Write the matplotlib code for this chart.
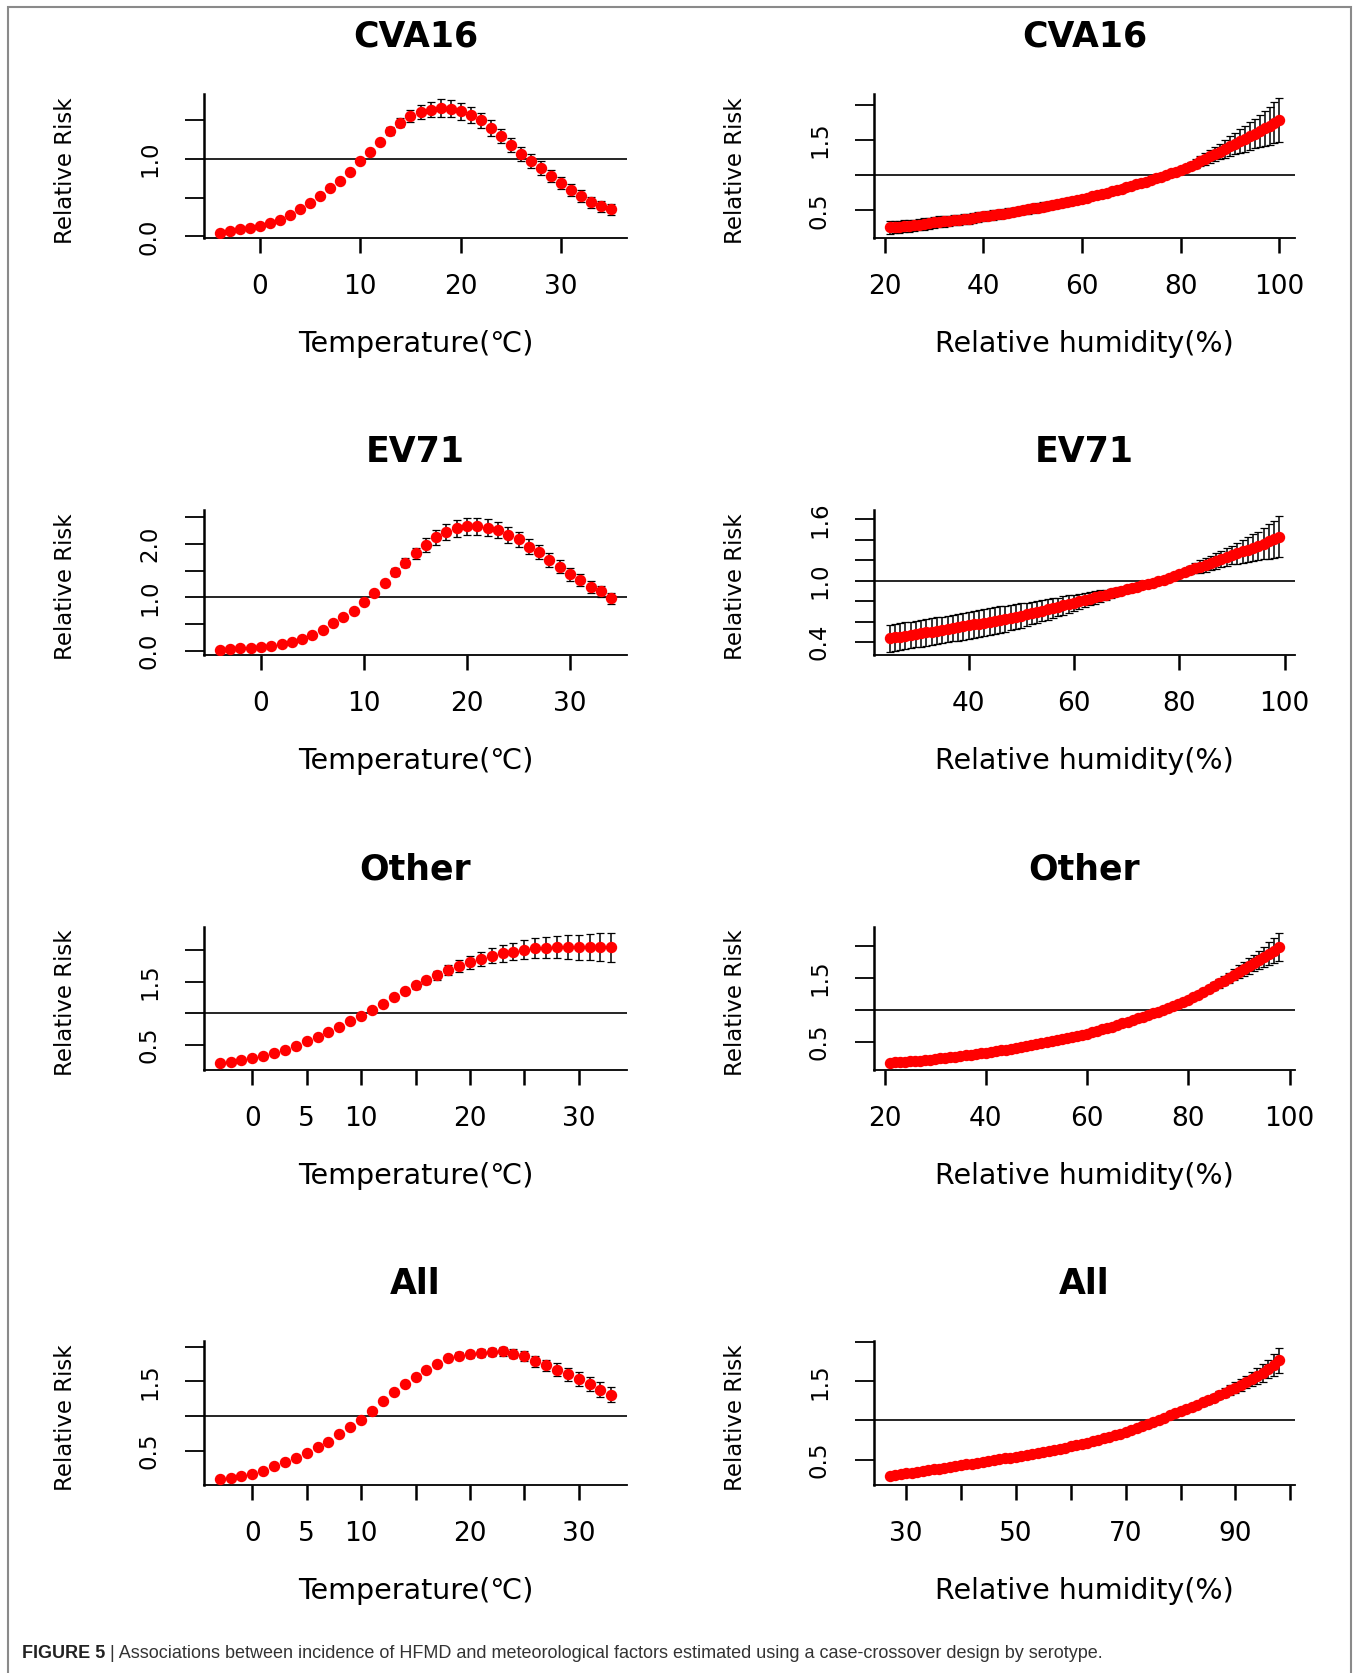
import numpy as np
import matplotlib.pyplot as plt
from matplotlib.patches import Rectangle
from matplotlib.text import Annotation

W, H = 1363, 1673

# exposure grids: one estimate per degree / per percent
temp_cva16 = np.arange(-4, 36)
temp_ev71 = np.arange(-4, 35)
temp_other = np.arange(-3, 34)
temp_all = np.arange(-3, 34)
hum_cva16 = np.arange(21, 101)
hum_ev71 = np.arange(25, 100)
hum_other = np.arange(21, 99)
hum_all = np.arange(27, 99)

# ── relative risk, temperature ───────────────────────────────
rr_temp_cva16 = [0.05, 0.07, 0.09, 0.11, 0.13, 0.17, 0.21, 0.27, 0.35, 0.43,
                 0.52, 0.62, 0.71, 0.83, 0.97, 1.09, 1.21, 1.35, 1.46, 1.55,
                 1.60, 1.63, 1.65, 1.64, 1.61, 1.56, 1.49, 1.39, 1.29, 1.18,
                 1.06, 0.97, 0.88, 0.78, 0.69, 0.60, 0.52, 0.44, 0.39, 0.35]
ci_temp_cva16 = [0.03, 0.03, 0.03, 0.03, 0.03, 0.03, 0.03, 0.03, 0.03, 0.03,
                 0.03, 0.02, 0.02, 0.01, 0.00, 0.02, 0.03, 0.05, 0.06, 0.08,
                 0.09, 0.10, 0.11, 0.11, 0.11, 0.10, 0.10, 0.10, 0.09, 0.09,
                 0.09, 0.09, 0.09, 0.08, 0.08, 0.08, 0.08, 0.07, 0.07, 0.07]

rr_temp_ev71 = [0.02, 0.03, 0.05, 0.06, 0.08, 0.10, 0.13, 0.17, 0.23, 0.30,
                0.40, 0.52, 0.63, 0.75, 0.91, 1.09, 1.26, 1.47, 1.65, 1.82,
                1.98, 2.12, 2.22, 2.29, 2.33, 2.33, 2.30, 2.25, 2.17, 2.08,
                1.94, 1.84, 1.70, 1.57, 1.43, 1.32, 1.20, 1.11, 0.98]
ci_temp_ev71 = [0.03, 0.03, 0.03, 0.03, 0.03, 0.03, 0.03, 0.03, 0.03, 0.03,
                0.03, 0.03, 0.02, 0.01, 0.00, 0.03, 0.05, 0.07, 0.09, 0.11,
                0.13, 0.14, 0.15, 0.16, 0.16, 0.16, 0.16, 0.15, 0.15, 0.14,
                0.14, 0.13, 0.13, 0.12, 0.12, 0.11, 0.11, 0.10, 0.10]

rr_temp_other = [0.20, 0.22, 0.25, 0.28, 0.32, 0.37, 0.42, 0.48, 0.55, 0.62,
                 0.70, 0.78, 0.87, 0.96, 1.05, 1.15, 1.25, 1.35, 1.44, 1.52,
                 1.60, 1.68, 1.75, 1.81, 1.86, 1.91, 1.95, 1.98, 2.01, 2.03,
                 2.04, 2.05, 2.05, 2.05, 2.05, 2.05, 2.05]
ci_temp_other = [0.02, 0.02, 0.02, 0.02, 0.02, 0.02, 0.02, 0.02, 0.02, 0.02,
                 0.02, 0.02, 0.01, 0.00, 0.01, 0.02, 0.03, 0.04, 0.05, 0.06,
                 0.07, 0.08, 0.09, 0.10, 0.11, 0.12, 0.13, 0.14, 0.15, 0.16,
                 0.17, 0.18, 0.19, 0.20, 0.21, 0.22, 0.23]

rr_temp_all = [0.10, 0.12, 0.15, 0.17, 0.22, 0.28, 0.34, 0.40, 0.47, 0.56,
               0.63, 0.74, 0.84, 0.95, 1.08, 1.22, 1.35, 1.46, 1.57, 1.66,
               1.75, 1.83, 1.87, 1.89, 1.91, 1.92, 1.93, 1.90, 1.86, 1.79,
               1.73, 1.67, 1.60, 1.53, 1.46, 1.38, 1.31]
ci_temp_all = [0.02, 0.02, 0.02, 0.02, 0.02, 0.02, 0.02, 0.02, 0.02, 0.02,
               0.02, 0.02, 0.01, 0.00, 0.01, 0.01, 0.02, 0.02, 0.03, 0.03,
               0.04, 0.04, 0.05, 0.05, 0.06, 0.06, 0.06, 0.07, 0.07, 0.08,
               0.08, 0.09, 0.09, 0.10, 0.10, 0.11, 0.11]

# ── relative risk, relative humidity ─────────────────────────
rr_hum_cva16 = [0.26, 0.265, 0.27, 0.28, 0.285, 0.29, 0.30, 0.31, 0.32, 0.33,
                0.34, 0.345, 0.35, 0.36, 0.37, 0.38, 0.385, 0.395, 0.405, 0.415,
                0.425, 0.435, 0.445, 0.455, 0.47, 0.48, 0.49, 0.505, 0.515, 0.53,
                0.54, 0.555, 0.565, 0.58, 0.59, 0.605, 0.62, 0.635, 0.65, 0.665,
                0.68, 0.70, 0.715, 0.73, 0.75, 0.77, 0.79, 0.81, 0.83, 0.85,
                0.87, 0.89, 0.91, 0.93, 0.955, 0.98, 1.00, 1.025, 1.05, 1.075,
                1.105, 1.135, 1.165, 1.195, 1.23, 1.265, 1.30, 1.335, 1.37, 1.41,
                1.445, 1.48, 1.515, 1.55, 1.59, 1.625, 1.665, 1.70, 1.74, 1.78]
ci_hum_cva16 = [0.09, 0.09, 0.085, 0.085, 0.085, 0.08, 0.08, 0.08, 0.08, 0.075,
                0.075, 0.075, 0.075, 0.07, 0.07, 0.07, 0.07, 0.07, 0.07, 0.065,
                0.065, 0.065, 0.065, 0.065, 0.065, 0.06, 0.06, 0.06, 0.06, 0.06,
                0.06, 0.06, 0.055, 0.055, 0.055, 0.05, 0.05, 0.05, 0.045, 0.045,
                0.045, 0.04, 0.04, 0.035, 0.035, 0.03, 0.03, 0.025, 0.025, 0.02,
                0.02, 0.015, 0.015, 0.01, 0.01, 0.005, 0.0, 0.01, 0.02, 0.03,
                0.04, 0.05, 0.06, 0.07, 0.08, 0.09, 0.10, 0.11, 0.13, 0.14,
                0.15, 0.17, 0.18, 0.20, 0.21, 0.23, 0.25, 0.27, 0.29, 0.31]

rr_hum_ev71 = [0.440, 0.448, 0.456, 0.464, 0.472, 0.480, 0.488, 0.496, 0.504, 0.512,
               0.520, 0.529, 0.538, 0.547, 0.556, 0.565, 0.574, 0.583, 0.592, 0.601,
               0.610, 0.620, 0.630, 0.640, 0.650, 0.660, 0.672, 0.684, 0.696, 0.708,
               0.720, 0.733, 0.746, 0.759, 0.772, 0.785, 0.798, 0.811, 0.824, 0.837,
               0.850, 0.863, 0.876, 0.889, 0.902, 0.915, 0.928, 0.941, 0.954, 0.967,
               0.980, 0.996, 1.012, 1.030, 1.050, 1.070, 1.087, 1.104, 1.121, 1.138,
               1.155, 1.174, 1.193, 1.212, 1.231, 1.250, 1.268, 1.286, 1.304, 1.322,
               1.340, 1.362, 1.384, 1.406, 1.430]
ci_hum_ev71 = [0.13, 0.13, 0.13, 0.13, 0.13, 0.13, 0.13, 0.13, 0.13, 0.13,
               0.13, 0.13, 0.13, 0.13, 0.13, 0.13, 0.13, 0.13, 0.13, 0.13,
               0.13, 0.13, 0.125, 0.125, 0.12, 0.12, 0.115, 0.11, 0.11, 0.105,
               0.10, 0.095, 0.09, 0.09, 0.085, 0.08, 0.075, 0.07, 0.065, 0.06,
               0.055, 0.05, 0.045, 0.04, 0.035, 0.03, 0.025, 0.02, 0.015, 0.01,
               0.005, 0.0, 0.0, 0.005, 0.01, 0.02, 0.03, 0.04, 0.05, 0.06,
               0.065, 0.07, 0.075, 0.08, 0.085, 0.09, 0.10, 0.11, 0.12, 0.13,
               0.14, 0.15, 0.17, 0.18, 0.20]

rr_hum_other = [0.170, 0.176, 0.182, 0.188, 0.194, 0.200, 0.206, 0.212, 0.220, 0.230,
                0.239, 0.248, 0.257, 0.266, 0.276, 0.286, 0.296, 0.307, 0.318, 0.330,
                0.342, 0.354, 0.366, 0.378, 0.391, 0.404, 0.418, 0.432, 0.446, 0.460,
                0.475, 0.491, 0.507, 0.524, 0.541, 0.558, 0.576, 0.594, 0.612, 0.630,
                0.651, 0.672, 0.694, 0.717, 0.740, 0.765, 0.790, 0.816, 0.843, 0.870,
                0.895, 0.920, 0.946, 0.973, 1.000, 1.030, 1.061, 1.093, 1.126, 1.160,
                1.200, 1.240, 1.282, 1.325, 1.370, 1.415, 1.460, 1.506, 1.553, 1.600,
                1.645, 1.690, 1.736, 1.783, 1.830, 1.880, 1.930, 1.980]
ci_hum_other = [0.035, 0.035, 0.035, 0.035, 0.035, 0.035, 0.035, 0.035, 0.035, 0.035,
                0.035, 0.035, 0.035, 0.035, 0.035, 0.035, 0.035, 0.035, 0.035, 0.035,
                0.035, 0.035, 0.035, 0.035, 0.03, 0.03, 0.03, 0.03, 0.03, 0.03,
                0.03, 0.03, 0.03, 0.025, 0.025, 0.025, 0.025, 0.02, 0.02, 0.02,
                0.02, 0.02, 0.015, 0.015, 0.015, 0.01, 0.01, 0.01, 0.008, 0.006,
                0.005, 0.004, 0.003, 0.002, 0.0, 0.005, 0.01, 0.015, 0.02, 0.03,
                0.035, 0.04, 0.045, 0.05, 0.06, 0.065, 0.07, 0.08, 0.09, 0.10,
                0.11, 0.12, 0.13, 0.14, 0.16, 0.18, 0.20, 0.22]

rr_hum_all = [0.295, 0.305, 0.315, 0.325,
              0.335, 0.345, 0.355, 0.365, 0.375, 0.386, 0.397, 0.408, 0.419, 0.430,
              0.440, 0.450, 0.461, 0.472, 0.483, 0.494, 0.505, 0.516, 0.526, 0.535,
              0.547, 0.559, 0.571, 0.584, 0.597, 0.610, 0.624, 0.638, 0.653, 0.670,
              0.686, 0.702, 0.718, 0.735, 0.752, 0.770, 0.789, 0.809, 0.829, 0.850,
              0.876, 0.902, 0.929, 0.956, 0.983, 1.010, 1.037, 1.064, 1.092, 1.120,
              1.147, 1.174, 1.201, 1.230, 1.260, 1.292, 1.324, 1.356, 1.388, 1.420,
              1.455, 1.490, 1.527, 1.566, 1.607, 1.657, 1.712, 1.770]
ci_hum_all = [0.03, 0.03, 0.03, 0.03,
              0.03, 0.03, 0.03, 0.03, 0.03, 0.03, 0.03, 0.03, 0.03, 0.03,
              0.025, 0.025, 0.025, 0.025, 0.025, 0.025, 0.025, 0.025, 0.025, 0.025,
              0.02, 0.02, 0.02, 0.02, 0.02, 0.02, 0.02, 0.02, 0.02, 0.02,
              0.02, 0.018, 0.016, 0.014, 0.012, 0.01, 0.008, 0.006, 0.005, 0.004,
              0.003, 0.002, 0.001, 0.0, 0.0, 0.0, 0.005, 0.01, 0.015, 0.02,
              0.025, 0.03, 0.035, 0.04, 0.045, 0.05, 0.055, 0.06, 0.065, 0.07,
              0.075, 0.08, 0.09, 0.10, 0.11, 0.12, 0.14, 0.16]

TEMP_LABEL = 'Temperature(℃)'
HUM_LABEL = 'Relative humidity(%)'
CAPTION_BOLD = 'FIGURE 5'
CAPTION_REST = (' | Associations between incidence of HFMD and meteorological factors '
                'estimated using a case-crossover design by serotype.')

# (row, col, title, x, rr, ci, xlabel, xticks, xticklabels, yticks, yticklabels, ylim)
panels = [
    (0, 0, 'CVA16', temp_cva16, rr_temp_cva16, ci_temp_cva16, TEMP_LABEL,
     [0, 10, 20, 30], ['0', '10', '20', '30'],
     [0, 0.5, 1.0, 1.5], ['0.0', '', '1.0', ''], (-0.02, 1.83)),
    (0, 1, 'CVA16', hum_cva16, rr_hum_cva16, ci_hum_cva16, HUM_LABEL,
     [20, 40, 60, 80, 100], ['20', '40', '60', '80', '100'],
     [0.5, 1.0, 1.5, 2.0], ['0.5', '', '1.5', ''], (0.11, 2.15)),
    (1, 0, 'EV71', temp_ev71, rr_temp_ev71, ci_temp_ev71, TEMP_LABEL,
     [0, 10, 20, 30], ['0', '10', '20', '30'],
     [0, 0.5, 1.0, 1.5, 2.0, 2.5], ['0.0', '', '1.0', '', '2.0', ''], (-0.075, 2.63)),
    (1, 1, 'EV71', hum_ev71, rr_hum_ev71, ci_hum_ev71, HUM_LABEL,
     [40, 60, 80, 100], ['40', '60', '80', '100'],
     [0.4, 0.6, 0.8, 1.0, 1.2, 1.4, 1.6], ['0.4', '', '', '1.0', '', '', '1.6'], (0.276, 1.69)),
    (2, 0, 'Other', temp_other, rr_temp_other, ci_temp_other, TEMP_LABEL,
     [0, 5, 10, 15, 20, 25, 30], ['0', '5', '10', '', '20', '', '30'],
     [0.5, 1.0, 1.5, 2.0], ['0.5', '', '1.5', ''], (0.096, 2.37)),
    (2, 1, 'Other', hum_other, rr_hum_other, ci_hum_other, HUM_LABEL,
     [20, 40, 60, 80, 100], ['20', '40', '60', '80', '100'],
     [0.5, 1.0, 1.5, 2.0], ['0.5', '', '1.5', ''], (0.058, 2.30)),
    (3, 0, 'All', temp_all, rr_temp_all, ci_temp_all, TEMP_LABEL,
     [0, 5, 10, 15, 20, 25, 30], ['0', '5', '10', '', '20', '', '30'],
     [0.5, 1.0, 1.5, 2.0], ['0.5', '', '1.5', ''], (0.014, 2.08)),
    (3, 1, 'All', hum_all, rr_hum_all, ci_hum_all, HUM_LABEL,
     [30, 40, 50, 60, 70, 80, 90, 100], ['30', '', '50', '', '70', '', '90', ''],
     [0.5, 1.0, 1.5, 2.0], ['0.5', '', '1.5', ''], (0.176, 2.014)),
]

# panel frames in pixels: (left, right) per column, (top, bottom) per row
COLS = [(204, 627), (874, 1295)]
ROWS = [(94, 238), (510, 655), (927, 1070), (1341, 1485)]

plt.rcParams['font.family'] = 'DejaVu Sans'
fig = plt.figure(figsize=(W / 100, H / 100), dpi=100)

for row, col, title, x, rr, ci, xlabel, xt, xtl, yt, ytl, ylim in panels:
    x0, x1 = COLS[col]
    top, bottom = ROWS[row]
    hpx = bottom - top
    ax = fig.add_axes([x0 / W, 1 - bottom / H, (x1 - x0) / W, hpx / H])

    ax.axhline(1.0, color='black', lw=1.2, zorder=1)
    ax.errorbar(x, rr, yerr=ci, fmt='none', ecolor='black', elinewidth=1.1,
                capsize=3, capthick=0.9, zorder=2)
    ax.plot(x, rr, 'o', color='#ff0000', mec='#ff0000', ms=7.2, zorder=3)

    span = x[-1] - x[0]
    ax.set_xlim(x[0] - 0.04 * span, x[-1] + 0.04 * span)
    ax.set_ylim(*ylim)

    for side in ('top', 'right'):
        ax.spines[side].set_visible(False)
    ax.spines['left'].set_linewidth(1.8)
    ax.spines['bottom'].set_linewidth(1.3)

    ax.set_xticks(xt)
    ax.set_xticklabels(xtl)
    ax.set_yticks(yt)
    ax.set_yticklabels(ytl, rotation=90, va='center')
    ax.tick_params(axis='x', length=10.8, width=1.8, pad=15, labelsize=19)
    ax.tick_params(axis='y', length=14, width=1.3, pad=17, labelsize=16.5)

    ax.set_xlabel(xlabel, fontsize=20.5, va='center')
    ax.xaxis.set_label_coords(0.5, -106 / hpx)
    ax.set_ylabel('Relative Risk', fontsize=16.5, va='center')
    ax.yaxis.set_label_coords(-139 / (x1 - x0), 0.47)

    ax.text(0.5, 1 + 57.5 / hpx, title, transform=ax.transAxes,
            ha='center', va='center', fontsize=25, fontweight='bold')

# outer frame of the figure
fig.patches.append(Rectangle((8 / W, -0.01), (1351 - 8) / W, 1.01 - 7 / H,
                             transform=fig.transFigure, fill=False,
                             edgecolor='#8a8a8a', lw=1.5))

cap = fig.text(22 / W, 1 - 1654 / H, CAPTION_BOLD, fontsize=13, fontweight='bold',
               family='Liberation Sans', color='#222222', va='center')
fig.add_artist(Annotation(CAPTION_REST, xy=(1, 0), xycoords=cap, va='bottom',
                          fontsize=13, family='Liberation Sans', color='#333333'))

fig.savefig('out.png', dpi=100)
